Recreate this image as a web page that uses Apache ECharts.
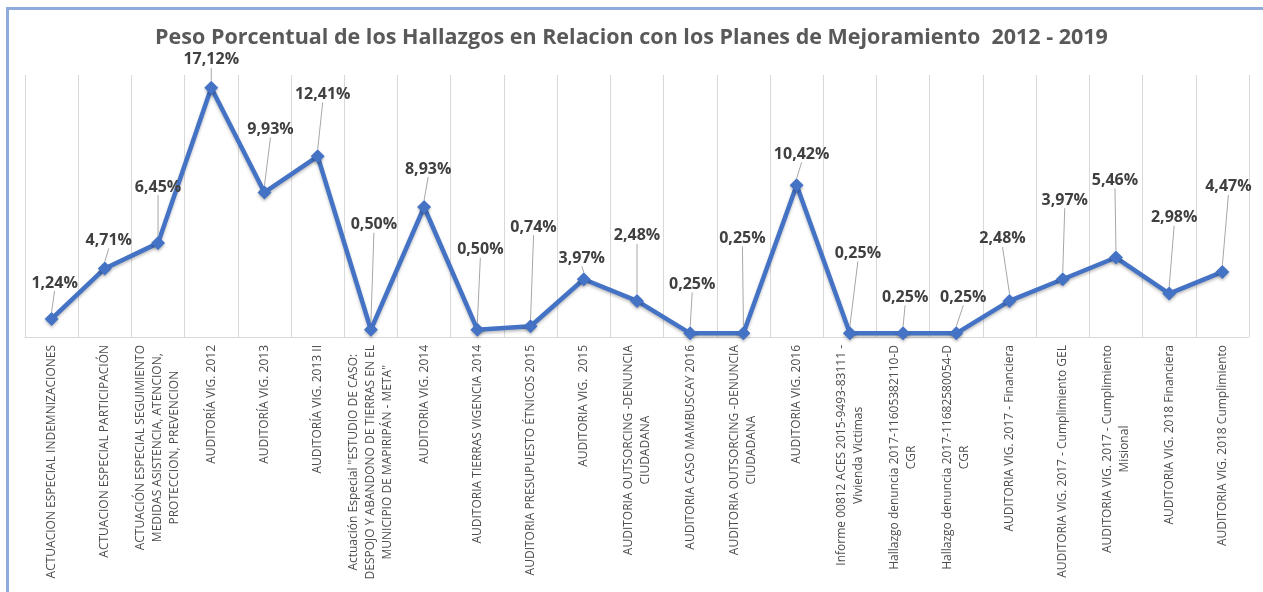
<!DOCTYPE html>
<html>
<head>
<meta charset="utf-8">
<script src="https://cdn.jsdelivr.net/npm/echarts@6/dist/echarts.min.js"></script>
<style>
  html, body { margin: 0; padding: 0; background: #fff; }
  #chart { width: 1263px; height: 592px; }
</style>
</head>
<body>
<div id="chart"></div>
<script>
// categorias (saltos de linea como en el original)
const categories = [
  'ACTUACION ESPECIAL INDEMNIZACIONES',
  'ACTUACION ESPECIAL PARTICIPACIÓN',
  'ACTUACIÓN ESPECIAL SEGUIMIENTO\nMEDIDAS ASISTENCIA, ATENCION,\nPROTECCION, PREVENCION',
  'AUDITORÍA VIG. 2012',
  'AUDITORÍA VIG. 2013',
  'AUDITORÍA VIG. 2013 II',
  'Actuación Especial "ESTUDIO DE CASO:\nDESPOJO Y ABANDONO DE TIERRAS EN EL\nMUNICIPIO DE MAPIRIPÁN - META"',
  'AUDITORIA VIG. 2014',
  'AUDITORIA TIERRAS VIGENCIA 2014',
  'AUDITORIA PRESUPUESTO ÉTNICOS 2015',
  'AUDITORIA VIG.  2015',
  'AUDITORIA OUTSORCING -DENUNCIA\nCIUDADANA',
  'AUDITORIA CASO MAMBUSCAY 2016',
  'AUDITORIA OUTSORCING -DENUNCIA\nCIUDADANA',
  'AUDITORIA VIG. 2016',
  'Informe 00812 ACES 2015-9493-83111 -\nVivienda Victimas',
  'Hallazgo denuncia 2017-11605382110-D\nCGR',
  'Hallazgo denuncia 2017-11682580054-D\nCGR',
  'AUDITORIA VIG. 2017 - Financiera',
  'AUDITORIA VIG. 2017 - Cumplimiento GEL',
  'AUDITORIA VIG. 2017 - Cumplimiento\nMisional',
  'AUDITORIA VIG. 2018 Financiera',
  'AUDITORIA VIG. 2018 Cumplimiento'
]

// peso porcentual (%)
const pesos = [1.24, 4.71, 6.45, 17.12, 9.93, 12.41, 0.50, 8.93, 0.50, 0.74, 3.97, 2.48,
  0.25, 0.25, 10.42, 0.25, 0.25, 0.25, 2.48, 3.97, 5.46, 2.98, 4.47]

// desplazamiento de cada etiqueta respecto a su punto (px), como las llamadas de Excel
const labelOffsets = [
  [3, -36], [4, -28], [0, -56], [0, -28], [6, -63], [5, -62], [3, -105], [4, -38],
  [3, -80], [3, -99], [-2, -21], [0, -65], [2, -49], [-1, -95], [5, -31], [8, -80],
  [2, -36], [7, -36], [-7, -62], [2, -79], [-1, -77], [5, -76], [6, -85]
]

const chart = echarts.init(document.getElementById('chart'))
const border = '#8FAADC'

chart.setOption({
  animation: false,
  textStyle: { fontFamily: 'Open Sans' },
  title: {
    text: 'Peso Porcentual de los Hallazgos en Relacion con los Planes de Mejoramiento  2012 - 2019',
    left: 'center',
    top: 22,
    textStyle: { fontSize: 21.5, fontWeight: 'bold', color: '#595959', fontFamily: 'Open Sans' }
  },
  graphic: [
    { type: 'rect', shape: { x: 6, y: 7, width: 1257, height: 3 }, style: { fill: border } },
    { type: 'rect', shape: { x: 6, y: 7, width: 3, height: 585 }, style: { fill: border } }
  ],
  grid: { left: 25, right: 14, top: 75, bottom: 255 },
  xAxis: {
    type: 'category',
    data: categories,
    boundaryGap: true,
    axisLine: { lineStyle: { color: '#D9D9D9', width: 1 } },
    axisTick: { show: false },
    splitLine: { show: true, interval: 0, lineStyle: { color: '#D9D9D9', width: 1 } },
    axisLabel: {
      interval: 0,
      rotate: 90,
      margin: 8,
      color: '#4d4d4d',
      fontSize: 12,
      lineHeight: 17,
      formatter: (v) => v.split('\n').map((l) => '{c|' + l + '}').join('\n'),
      rich: { c: { align: 'center', fontSize: 12, lineHeight: 17, color: '#4d4d4d' } }
    }
  },
  yAxis: { type: 'value', min: 0, max: 18, show: false, splitLine: { show: false } },
  series: [
    {
      type: 'line',
      data: pesos,
      symbol: 'diamond',
      symbolSize: 14,
      lineStyle: { color: '#4472C4', width: 4.5, shadowColor: 'rgba(0,0,0,0.25)', shadowBlur: 3, shadowOffsetY: 2 },
      itemStyle: { color: '#4472C4', shadowColor: 'rgba(0,0,0,0.25)', shadowBlur: 3, shadowOffsetY: 2 },
      label: {
        show: true,
        position: 'inside',
        formatter: (p) => p.value.toFixed(2).replace('.', ',') + '%',
        fontSize: 16,
        fontWeight: 'bold',
        color: '#404040',
        fontFamily: 'Open Sans'
      },
      labelLine: { show: true, lineStyle: { color: '#A6A6A6', width: 1 } },
      labelLayout: (p) => ({ dx: labelOffsets[p.dataIndex][0], dy: labelOffsets[p.dataIndex][1] })
    }
  ]
})
</script>
</body>
</html>
